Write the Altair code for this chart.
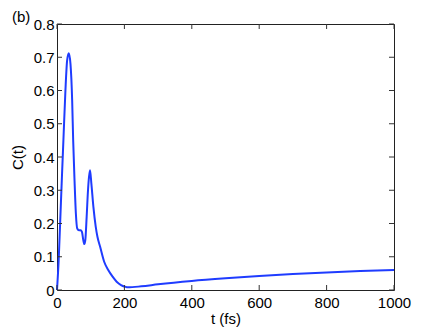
import altair as alt
import pandas as pd

t_vals = [0, 5, 10, 15, 19, 25, 30, 35, 40, 45, 48, 52, 56, 60, 65, 70, 74, 78, 81, 84, 88, 92, 95, 98,
          102, 108, 115, 120, 128, 140, 152, 165, 177, 190, 202, 210, 250, 300, 400, 500, 600, 700, 800, 900, 1000]
c_vals = [0.0, 0.09, 0.22, 0.35, 0.45, 0.6, 0.69, 0.712, 0.68, 0.57, 0.45, 0.33, 0.23, 0.185, 0.18, 0.18, 0.175, 0.15, 0.138, 0.15, 0.22, 0.3, 0.34, 0.36,
          0.32, 0.25, 0.19, 0.16, 0.13, 0.085, 0.06, 0.04, 0.025, 0.015, 0.01, 0.008, 0.011, 0.017, 0.027, 0.035, 0.042, 0.048, 0.053, 0.057, 0.06]

x_ticks = [0, 200, 400, 600, 800, 1000]
y_ticks = [0, 0.1, 0.2, 0.3, 0.4, 0.5, 0.6, 0.7, 0.8]

W, H = 337, 266
FONT = "Liberation Sans"
FS = 15

df = pd.DataFrame({"t": t_vals, "C": c_vals})
xt = pd.DataFrame({"t": x_ticks})
yt = pd.DataFrame({"C": y_ticks})

xscale = alt.Scale(domain=[0, 1000], nice=False)
yscale = alt.Scale(domain=[0, 0.8], nice=False)

xaxis = alt.Axis(title="t (fs)", values=x_ticks, grid=False, tickSize=0, domain=False,
                 labelFont=FONT, labelFontSize=FS, labelColor="black", labelPadding=5,
                 titleFont=FONT, titleFontSize=FS, titleFontWeight="normal", titleColor="black",
                 titlePadding=1, labelFlush=False, labelOverlap=False, format="d")
yaxis = alt.Axis(title="C(t)", values=y_ticks, grid=False, tickSize=0, domain=False,
                 labelFont=FONT, labelFontSize=FS, labelColor="black", labelPadding=3,
                 titleFont=FONT, titleFontSize=FS, titleFontWeight="normal", titleColor="black",
                 titlePadding=8, labelFlush=False, labelOverlap=False, format=".1~f")

line = alt.Chart(df).mark_line(color="#1f3cff", strokeWidth=2, interpolate="monotone").encode(
    x=alt.X("t:Q", scale=xscale, axis=xaxis),
    y=alt.Y("C:Q", scale=yscale, axis=yaxis),
)

tl = 5
xb = alt.Chart(xt).mark_rule(color="#333333", strokeWidth=1).encode(
    x=alt.X("t:Q", scale=xscale, axis=xaxis), y=alt.value(H), y2=alt.value(H - tl))
xtop = alt.Chart(xt).mark_rule(color="#333333", strokeWidth=1).encode(
    x=alt.X("t:Q", scale=xscale, axis=xaxis), y=alt.value(0), y2=alt.value(tl))
yl = alt.Chart(yt).mark_rule(color="#333333", strokeWidth=1).encode(
    y=alt.Y("C:Q", scale=yscale, axis=yaxis), x=alt.value(0), x2=alt.value(tl))
yr = alt.Chart(yt).mark_rule(color="#333333", strokeWidth=1).encode(
    y=alt.Y("C:Q", scale=yscale, axis=yaxis), x=alt.value(W), x2=alt.value(W - tl))

label = alt.Chart(pd.DataFrame({"s": ["(b)"]})).mark_text(
    font=FONT, fontSize=FS, align="left", baseline="top", color="black").encode(
    text="s:N", x=alt.value(-45), y=alt.value(-14))

chart = alt.layer(line, xb, xtop, yl, yr, label).properties(
    width=W, height=H,
    autosize=alt.AutoSizeParams(type="none"),
    padding={"left": 49, "top": 16, "right": 30, "bottom": 37},
).configure_view(stroke="#222222", strokeWidth=1)

chart.save("out.html", embed_options={"renderer": "svg", "actions": False})
